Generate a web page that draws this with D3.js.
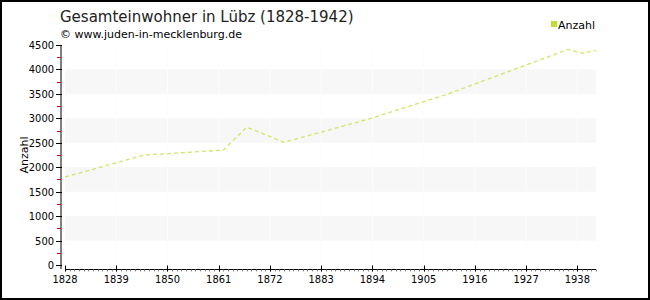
<!DOCTYPE html>
<html>
<head>
<meta charset="utf-8">
<script src="https://cdn.jsdelivr.net/npm/d3@7"></script>
<style>
  body { margin: 0; background: #fff; }
  svg text { font-family: "DejaVu Sans", Verdana, sans-serif; }
  svg text.tick { font-family: "DejaVu Sans Condensed", "DejaVu Sans", sans-serif; }
</style>
</head>
<body>
<div id="chart"></div>
<script>
// data
var years = [1828, 1845, 1862, 1867, 1875, 1893, 1910, 1936, 1939, 1942];
var einwohner = [1800, 2250, 2350, 2820, 2510, 2980, 3490, 4410, 4330, 4390];
var xTicks = [1828, 1839, 1850, 1861, 1872, 1883, 1894, 1905, 1916, 1927, 1938];
var yTicks = [0, 500, 1000, 1500, 2000, 2500, 3000, 3500, 4000, 4500];

var W = 650, H = 300;

var svg = d3.select("#chart")
  .append("svg")
    .attr("width", W)
    .attr("height", H);

// frame
svg.append("rect")
  .attr("x", 1).attr("y", 1)
  .attr("width", W - 2).attr("height", H - 2)
  .attr("fill", "#fff")
  .attr("stroke", "#000")
  .attr("stroke-width", 2);

var x = d3.scaleLinear()
  .domain([1828, 1942])
  .range([65, 596]);

var y = d3.scaleLinear()
  .domain([0, 4500])
  .range([265, 45]);

// alternating bands
var bands = [500, 1500, 2500, 3500];
svg.append("g")
  .selectAll("rect")
  .data(bands)
  .enter()
  .append("rect")
    .attr("x", x(1828))
    .attr("width", x(1942) - x(1828))
    .attr("y", function (d) { return y(d + 500); })
    .attr("height", function (d) { return y(d) - y(d + 500); })
    .attr("fill", "#f7f7f7");

// faint vertical grid
svg.append("g")
  .selectAll("line")
  .data(xTicks.slice(1))
  .enter()
  .append("line")
    .attr("x1", function (d) { return x(d); })
    .attr("x2", function (d) { return x(d); })
    .attr("y1", y(4500))
    .attr("y2", y(0))
    .attr("stroke", "#fcfcfc");

// y axis
var yAxis = svg.append("g");
yAxis.append("line")
  .attr("x1", 61).attr("x2", 61)
  .attr("y1", y(4500)).attr("y2", y(0) + 4)
  .attr("stroke", "#000");
yAxis.selectAll(".minor")
  .data(yTicks.slice(0, -1))
  .enter()
  .append("line")
    .attr("x1", 57).attr("x2", 61)
    .attr("y1", function (d) { return Math.round(y(d + 250)) + 0.5; })
    .attr("y2", function (d) { return Math.round(y(d + 250)) + 0.5; })
    .attr("stroke", "#e00000");
yAxis.selectAll(".major")
  .data(yTicks)
  .enter()
  .append("line")
    .attr("x1", 56).attr("x2", 62)
    .attr("y1", function (d) { return Math.round(y(d)) + 0.5; })
    .attr("y2", function (d) { return Math.round(y(d)) + 0.5; })
    .attr("stroke", "#000");
yAxis.selectAll("text")
  .data(yTicks)
  .enter()
  .append("text")
    .attr("class", "tick")
    .attr("x", 54)
    .attr("y", function (d) { return y(d) + 4; })
    .attr("text-anchor", "end")
    .attr("font-size", 11)
    .attr("fill", "#000")
    .text(function (d) { return d; });

svg.append("text")
  .attr("transform", "translate(28," + y(2250) + ") rotate(-90)")
  .attr("text-anchor", "middle")
  .attr("font-size", 11)
  .text("Anzahl");

// x axis
var xAxisY = 269.5;
var xAxis = svg.append("g");
xAxis.append("line")
  .attr("x1", x(1828)).attr("x2", x(1942))
  .attr("y1", xAxisY).attr("y2", xAxisY)
  .attr("stroke", "#000");
xAxis.selectAll(".minor")
  .data(d3.range(1828, 1943))
  .enter()
  .append("line")
    .attr("x1", function (d) { return Math.round(x(d)) + 0.5; })
    .attr("x2", function (d) { return Math.round(x(d)) + 0.5; })
    .attr("y1", xAxisY).attr("y2", xAxisY + 2)
    .attr("stroke", "#888");
xAxis.selectAll(".major")
  .data(xTicks)
  .enter()
  .append("line")
    .attr("x1", function (d) { return Math.round(x(d)) + 0.5; })
    .attr("x2", function (d) { return Math.round(x(d)) + 0.5; })
    .attr("y1", xAxisY - 4).attr("y2", xAxisY + 2)
    .attr("stroke", "#000");
xAxis.selectAll("text")
  .data(xTicks)
  .enter()
  .append("text")
    .attr("class", "tick")
    .attr("x", function (d) { return x(d); })
    .attr("y", 283)
    .attr("text-anchor", "middle")
    .attr("font-size", 11)
    .text(function (d) { return d; });

// line
var line = d3.line()
  .x(function (d, i) { return x(years[i]); })
  .y(function (d) { return y(d); });

svg.append("path")
  .datum(einwohner)
  .attr("d", line)
  .attr("fill", "none")
  .attr("stroke", "#d2e46a")
  .attr("stroke-width", 1.3)
  .attr("stroke-dasharray", "4,3");

// titles
svg.append("text")
  .attr("x", 60).attr("y", 22)
  .attr("font-size", 15)
  .attr("fill", "#222")
  .text("Gesamteinwohner in Lübz (1828-1942)");
svg.append("text")
  .attr("x", 60).attr("y", 38)
  .attr("font-size", 11)
  .text("© www.juden-in-mecklenburg.de");

// legend
svg.append("rect")
  .attr("x", 551).attr("y", 21)
  .attr("width", 6).attr("height", 6)
  .attr("fill", "#bde030");
svg.append("text")
  .attr("x", 558).attr("y", 29)
  .attr("font-size", 11)
  .text("Anzahl");
</script>
</body>
</html>
